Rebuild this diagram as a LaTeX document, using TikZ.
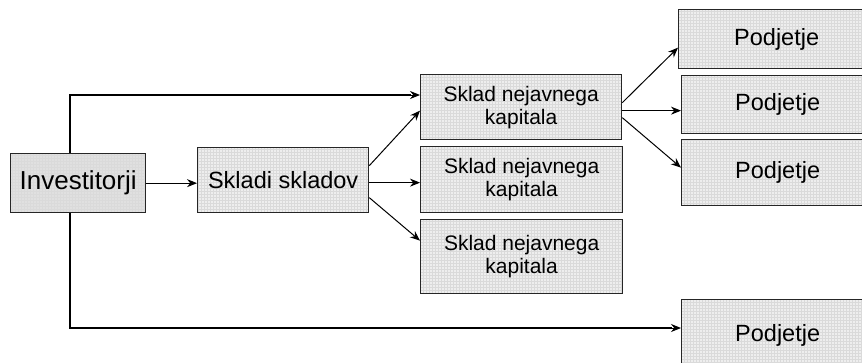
\documentclass[tikz,border=0pt]{standalone}
\usepackage{fontspec}
\setmainfont{Liberation Sans}
\usetikzlibrary{arrows.meta,patterns}
\definecolor{boxfill}{RGB}{238,238,238}
\definecolor{invfill}{RGB}{224,224,224}
\definecolor{gridc}{RGB}{218,218,218}
\tikzset{
  box/.style={draw=black!85, line width=1.3pt, rectangle, inner sep=0pt,
    anchor=north west, align=center,
    preaction={fill=boxfill}, pattern=grid, pattern color=gridc},
  conn/.style={line width=1pt, -{Stealth[length=10pt,width=8pt]}},
  plain/.style={line width=1.4pt},
  fbig/.style={font=\fontsize{26}{28}\selectfont},
  fmid/.style={font=\fontsize{23.5}{25}\selectfont},
  fsk/.style={font=\fontsize{21}{23}\selectfont},
  fpod/.style={font=\fontsize{23.5}{25}\selectfont},
}
\begin{document}
\begin{tikzpicture}[x=1pt,y=-1pt]
\useasboundingbox (0,0) rectangle (862,362);
\clip (0,0) rectangle (862,362);
% nodes
\node[box, preaction={fill=invfill}, fbig, minimum width=135pt, minimum height=59pt] (inv) at (10,153) {Investitorji};
\node[box, fmid, minimum width=171pt, minimum height=65pt] (sk) at (197,147) {Skladi skladov};
\node[box, fsk, minimum width=201pt, minimum height=65pt] (s1) at (420,74) {Sklad nejavnega\\kapitala};
\node[box, fsk, minimum width=202pt, minimum height=66pt] (s2) at (420,146) {Sklad nejavnega\\kapitala};
\node[box, fsk, minimum width=202pt, minimum height=74pt] (s3) at (420,219) {Sklad nejavnega\\kapitala};
\node[box, fpod, minimum width=196pt, minimum height=59pt] (p1) at (678,9) {Podjetje};
\node[box, fpod, minimum width=192pt, minimum height=58pt] (p2) at (681,75) {Podjetje};
\node[box, fpod, minimum width=192pt, minimum height=66pt] (p3) at (681,139) {Podjetje};
\node[box, fpod, minimum width=192pt, minimum height=72pt] (p4) at (681,299) {Podjetje};
% coordinates for the outer lines
\coordinate (tl) at (70,95);
\coordinate (bl) at (70,328);
% connectors
\draw[conn] (inv.east) -- (inv.east -| sk.west);
\draw[plain] (inv.north -| tl) -- (tl) -- ([xshift=-9pt]tl -| s1.west);
\draw[conn] ([xshift=-10pt]tl -| s1.west) -- (tl -| s1.west);
\draw[plain] (inv.south -| bl) -- (bl) -- ([xshift=-9pt]bl -| p4.west);
\draw[conn] ([xshift=-10pt]bl -| p4.west) -- (bl -| p4.west);
\draw[conn] ([yshift=14.5pt]sk.east) -- ([yshift=-3.5pt]s1.west);
\draw[conn] ([yshift=-2.5pt]sk.east) -- ([yshift=-2.5pt]sk.east -| s2.west);
\draw[conn] ([yshift=-17.5pt]sk.east) -- ([yshift=16pt]s3.west);
\draw[conn] ([yshift=4.5pt]s1.east) -- ([yshift=-8.5pt]p1.west);
\draw[conn] ([yshift=-3.5pt]s1.east) -- ([yshift=-3.5pt]s1.east -| p2.west);
\draw[conn] ([yshift=-10.5pt]s1.east) -- ([yshift=5pt]p3.west);
\end{tikzpicture}
\end{document}
